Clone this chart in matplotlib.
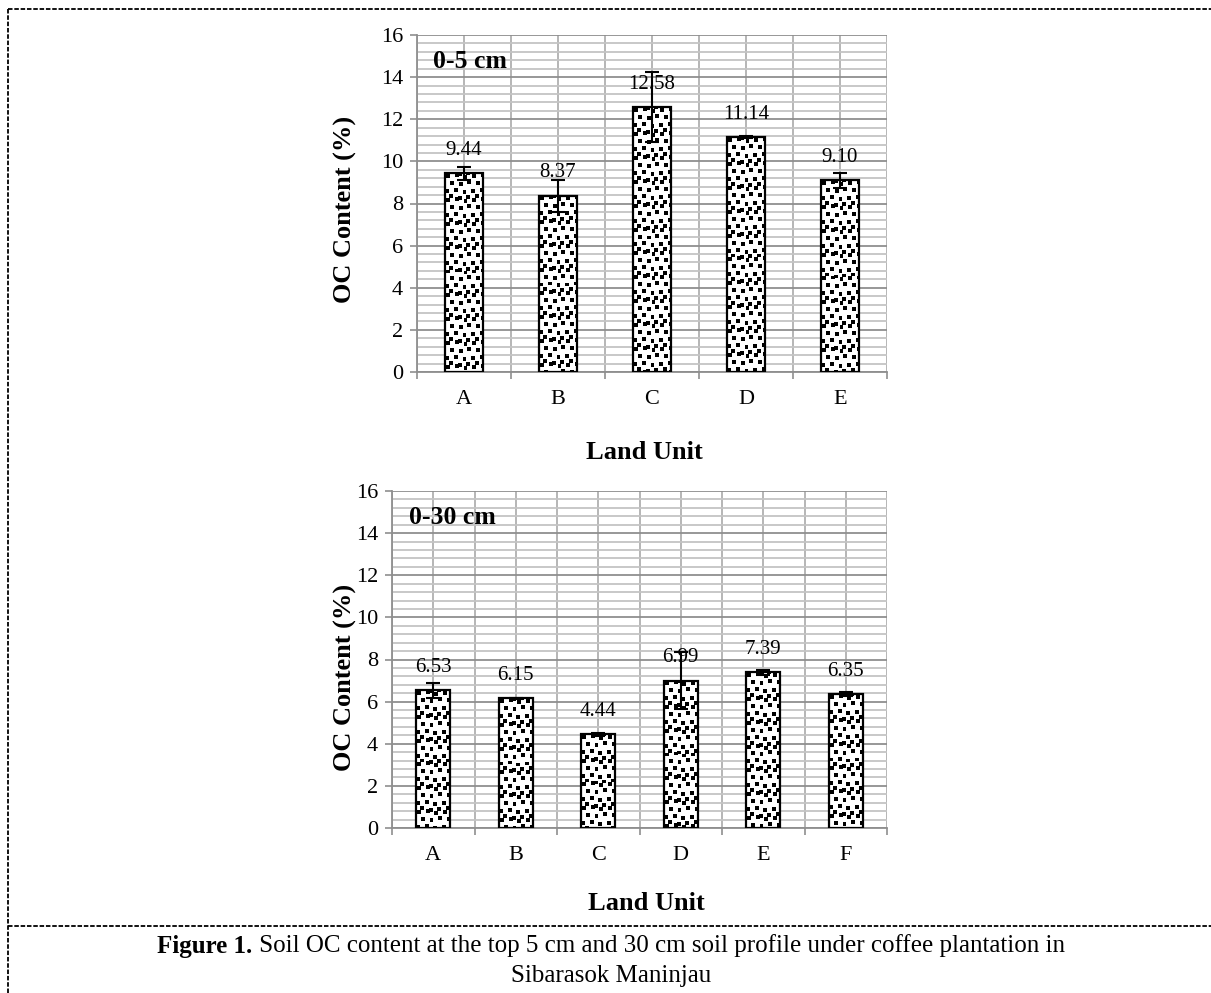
import numpy as np
import matplotlib
matplotlib.use("Agg")
import matplotlib.pyplot as plt
from matplotlib.lines import Line2D

# ---------------- data ----------------
cats_top = ["A", "B", "C", "D", "E"]
vals_top = [9.44, 8.37, 12.58, 11.14, 9.10]
err_top = [0.31, 0.75, 1.65, 0.05, 0.36]
label_top = "0-5 cm"

cats_bot = ["A", "B", "C", "D", "E", "F"]
vals_bot = [6.53, 6.15, 4.44, 6.99, 7.39, 6.35]
err_bot = [0.37, 0.03, 0.05, 1.36, 0.13, 0.10]
label_bot = "0-30 cm"

ylabel = "OC Content (%)"
xlabel = "Land Unit"
cap_bold = "Figure 1."
cap_rest = " Soil OC content at the top 5 cm and 30 cm soil profile under coffee plantation in"
cap_line2 = "Sibarasok Maninjau"

# ---------------- style ----------------
W, H = 1211, 993
DPI = 100
plt.rcParams['font.family'] = ['Liberation Serif', 'DejaVu Serif']

fig = plt.figure(figsize=(W / DPI, H / DPI), dpi=DPI)
fig.patch.set_facecolor("white")

# texture tile (1 = white, 0 = black squares)
TH, TW = 24, 27
tile = np.ones((TH, TW))
sq = [(1, 1), (10, 0), (19, 2), (5, 8), (14, 9), (23, 7),
      (0, 16), (9, 15), (18, 17), (4, 21), (13, 23), (22, 22)]
for (sx, sy) in sq:
    for dy in range(4):
        for dx in range(4):
            tile[(sy + dy) % TH, (sx + dx) % TW] = 0


def px_box(l, r, t, b):
    return [l / W, 1 - b / H, (r - l) / W, (b - t) / H]


def draw_panel(rect, cats, vals, errs, tag):
    ax = fig.add_axes(rect)
    n = len(cats)
    x = np.arange(n)
    bw = 0.41
    ax.set_xlim(-0.5, n - 0.5)
    ax.set_ylim(0, 16)
    ax.set_axisbelow(True)

    # grid
    ax.set_yticks(np.arange(0, 17, 2))
    ax.set_yticks(np.arange(0, 16.01, 0.4), minor=True)
    ax.set_xticks(np.arange(-0.5, n, 1.0))
    ax.set_xticks(x, minor=True)
    ax.set_xticklabels([""] * (n + 1))
    ax.set_xticklabels(cats, minor=True)
    ax.grid(which='minor', axis='y', color='#c4c4c4', lw=1.3, zorder=0)
    ax.grid(which='major', axis='y', color='#8f8f8f', lw=1.3, zorder=0)
    ax.grid(which='both', axis='x', color='#b0b0b0', lw=1.3, zorder=0)

    ax.tick_params(axis='y', which='major', length=5, width=1.2, color='#8f8f8f',
                   labelsize=16, pad=5)
    ax.tick_params(axis='y', which='minor', length=0)
    ax.tick_params(axis='x', which='major', length=5, width=1.2, color='#8f8f8f',
                   direction='out')
    ax.tick_params(axis='x', which='minor', length=0, labelsize=16, pad=13)

    for s in ['top', 'right']:
        ax.spines[s].set_visible(False)
    for s in ['left', 'bottom']:
        ax.spines[s].set_color('#8f8f8f')
        ax.spines[s].set_linewidth(1.3)

    bars = ax.bar(x, vals, width=bw, color='white', edgecolor='none', zorder=2)

    # texture inside bars
    fig.canvas.draw()
    bb = ax.get_window_extent()
    ppx = bb.width / n
    ppy = bb.height / 16.0
    for b in bars:
        w_px = int(np.ceil(b.get_width() * ppx)) + 1
        h_px = int(np.ceil(b.get_height() * ppy)) + 1
        reps = (h_px // TH + 1, w_px // TW + 1)
        img = np.tile(tile, reps)[:h_px, :w_px]
        im = ax.imshow(img, cmap='gray', vmin=0, vmax=1, interpolation='nearest',
                       extent=(b.get_x(), b.get_x() + b.get_width(), 0, b.get_height()),
                       origin='upper', aspect='auto', zorder=3)
        im.set_clip_path(b)
    ax.set_xlim(-0.5, n - 0.5)
    ax.set_ylim(0, 16)

    ax.bar(x, vals, width=bw, facecolor='none', edgecolor='black', linewidth=1.6, zorder=4)
    ax.errorbar(x, vals, yerr=errs, fmt='none', ecolor='black', elinewidth=1.5,
                capsize=4.7, capthick=1.5, zorder=5)

    for xi, v in zip(x, vals):
        ax.annotate(f"{v:.2f}", (xi, v), xytext=(0, 16.5), textcoords='offset points',
                    ha='center', va='center', fontsize=15, zorder=6)

    ax.text(0.035, 0.92, tag, transform=ax.transAxes, fontsize=18.5, fontweight='bold',
            ha='left', va='center', zorder=6)
    return ax


ax1 = draw_panel(px_box(417, 887, 35, 372), cats_top, vals_top, err_top, label_top)
ax2 = draw_panel(px_box(392, 887, 491, 828), cats_bot, vals_bot, err_bot, label_bot)

# axis titles
fig.text(345 / W, 1 - 209 / H, ylabel, rotation=90, fontsize=19, fontweight='bold',
         ha='center', va='center')
fig.text(345 / W, 1 - 677 / H, ylabel, rotation=90, fontsize=19, fontweight='bold',
         ha='center', va='center')
fig.text(644 / W, 1 - 452 / H, xlabel, fontsize=19, fontweight='bold', ha='center', va='center')
fig.text(646 / W, 1 - 903 / H, xlabel, fontsize=19, fontweight='bold', ha='center', va='center')

# caption
fig.canvas.draw()
r = fig.canvas.get_renderer()
t1 = fig.text(0, 0, cap_bold, fontsize=18, fontweight='bold')
t2 = fig.text(0, 0, cap_rest, fontsize=18)
w1 = t1.get_window_extent(r).width
w2 = t2.get_window_extent(r).width
cx = 611
x0 = cx - (w1 + w2) / 2
y1 = 1 - 946 / H
t1.set_position((x0 / W, y1)); t1.set_va('center')
t2.set_position(((x0 + w1) / W, y1)); t2.set_va('center')
fig.text(cx / W, 1 - 976 / H, cap_line2, fontsize=18, ha='center', va='center')

# dashed frame
dash = dict(color='black', lw=1.3, linestyle=(0, (2.5, 1)))
fig.add_artist(Line2D([8 / W, 1.0], [1 - 9 / H, 1 - 9 / H], transform=fig.transFigure, **dash))
fig.add_artist(Line2D([8 / W, 8 / W], [1 - 9 / H, 0.0], transform=fig.transFigure, **dash))
fig.add_artist(Line2D([8 / W, 1.0], [1 - 926 / H, 1 - 926 / H], transform=fig.transFigure, **dash))

fig.savefig("out.png", dpi=DPI, facecolor='white')
